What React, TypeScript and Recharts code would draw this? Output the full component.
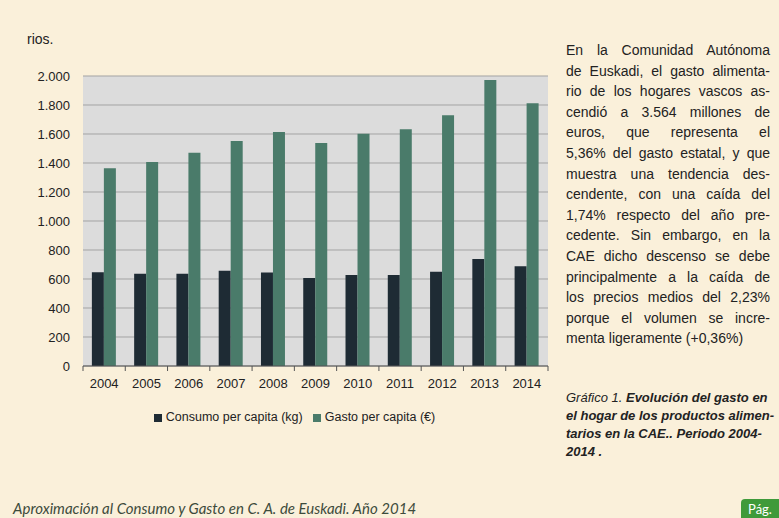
import { BarChart, Bar, XAxis, YAxis, CartesianGrid, Legend } from 'recharts'

const years = ['2004', '2005', '2006', '2007', '2008', '2009', '2010', '2011', '2012', '2013', '2014']
const consumo = [646, 637, 637, 657, 644, 607, 628, 628, 650, 738, 688]
const gasto = [1363, 1407, 1471, 1552, 1614, 1538, 1602, 1632, 1729, 1972, 1812]
const yTicks = [0, 200, 400, 600, 800, 1000, 1200, 1400, 1600, 1800, 2000]

const data = years.map((year, i) => ({ year, consumo: consumo[i], gasto: gasto[i] }))

const paragraph = [
  'En la Comunidad Autónoma',
  'de Euskadi, el gasto alimenta-',
  'rio de los hogares vascos as-',
  'cendió a 3.564 millones de',
  'euros, que representa el',
  '5,36% del gasto estatal, y que',
  'muestra una tendencia des-',
  'cendente, con una caída del',
  '1,74% respecto del año pre-',
  'cedente. Sin embargo, en la',
  'CAE dicho descenso se debe',
  'principalmente a la caída de',
  'los precios medios del 2,23%',
  'porque el volumen se incre-',
  'menta ligeramente (+0,36%)',
]

const DARK = '#1e2b34'
const GREEN = '#4a7b6a'
const FONT = '"Liberation Sans", Arial, sans-serif'

// plot is 465px wide over 11 years
const STEP = 465 / years.length

function fmt(v: number) {
  return v.toLocaleString('de-DE')
}

function YearTick({ x, y, payload, index }: any) {
  return (
    <g>
      <line x1={x - STEP / 2} x2={x - STEP / 2} y1={y} y2={y + 5} stroke="#555" />
      {index === years.length - 1 && (
        <line x1={x + STEP / 2} x2={x + STEP / 2} y1={y} y2={y + 5} stroke="#555" />
      )}
      <text x={x} y={y + 22} textAnchor="middle" fontSize={13} fill="#222" fontFamily={FONT}>
        {payload.value}
      </text>
    </g>
  )
}

export default function App() {
  return (
    <div
      style={{
        position: 'absolute',
        left: 0,
        top: 0,
        width: 779,
        height: 518,
        overflow: 'hidden',
        background: '#faf0da',
        fontFamily: FONT,
        color: '#222',
      }}
    >
      <div style={{ position: 'absolute', left: 27, top: 31, fontSize: 14 }}>rios.</div>

      <div style={{ position: 'absolute', left: 0, top: 0 }}>
        <BarChart
          width={560}
          height={450}
          data={data}
          margin={{ top: 76, right: 12, left: 23, bottom: 26 }}
          barCategoryGap="21%"
          barGap={0}
        >
          <CartesianGrid vertical={false} stroke="#a3a3a3" fill="#dcdcdc" />
          <YAxis
            width={60}
            domain={[0, 2000]}
            ticks={yTicks}
            axisLine={false}
            tickLine={false}
            tickMargin={7}
            tickFormatter={fmt}
            tick={{ fontSize: 13, fill: '#222', fontFamily: FONT }}
          />
          <XAxis
            dataKey="year"
            height={44}
            axisLine={{ stroke: '#555' }}
            tickLine={false}
            tickSize={0}
            tickMargin={0}
            interval={0}
            tick={<YearTick />}
          />
          <Legend
            verticalAlign="bottom"
            iconType="square"
            iconSize={8}
            wrapperStyle={{ left: 37, fontSize: 12.5, fontFamily: FONT }}
            formatter={(value: string) => <span style={{ color: '#222' }}>{value}</span>}
          />
          <Bar dataKey="consumo" name="Consumo per capita (kg)" fill={DARK} isAnimationActive={false} />
          <Bar dataKey="gasto" name="Gasto per capita (€)" fill={GREEN} isAnimationActive={false} />
        </BarChart>
      </div>

      <div style={{ position: 'absolute', left: 566, top: 40, width: 204, fontSize: 14, lineHeight: '20.6px' }}>
        {paragraph.map((line, i) => (
          <div
            key={i}
            style={{
              textAlign: 'justify',
              textAlignLast: i === paragraph.length - 1 ? 'left' : 'justify',
              whiteSpace: 'nowrap',
            }}
          >
            {line}
          </div>
        ))}
      </div>

      <div
        style={{
          position: 'absolute',
          left: 566,
          top: 389,
          fontSize: 13,
          lineHeight: '18px',
          fontStyle: 'italic',
          whiteSpace: 'nowrap',
        }}
      >
        <div>
          Gráfico 1. <b>Evolución del gasto en</b>
        </div>
        <div>
          <b>el hogar de los productos alimen-</b>
        </div>
        <div>
          <b>tarios en la CAE.. Periodo 2004-</b>
        </div>
        <div>
          <b>2014 .</b>
        </div>
      </div>

      <div
        style={{
          position: 'absolute',
          left: 13,
          top: 499,
          fontSize: 15,
          lineHeight: '18px',
          fontStyle: 'italic',
          fontFamily: 'Lato, sans-serif',
          color: '#3d4b3c',
          whiteSpace: 'nowrap',
        }}
      >
        Aproximación al Consumo y Gasto en C. A. de Euskadi. Año 2014
      </div>

      <div
        style={{
          position: 'absolute',
          left: 741,
          top: 499,
          width: 38,
          height: 22,
          background: '#3f9a3a',
          borderTopLeftRadius: 4,
          color: '#fff',
          fontSize: 13,
          fontFamily: 'Lato, sans-serif',
          textAlign: 'center',
          lineHeight: '20px',
        }}
      >
        Pág.
      </div>
    </div>
  )
}
